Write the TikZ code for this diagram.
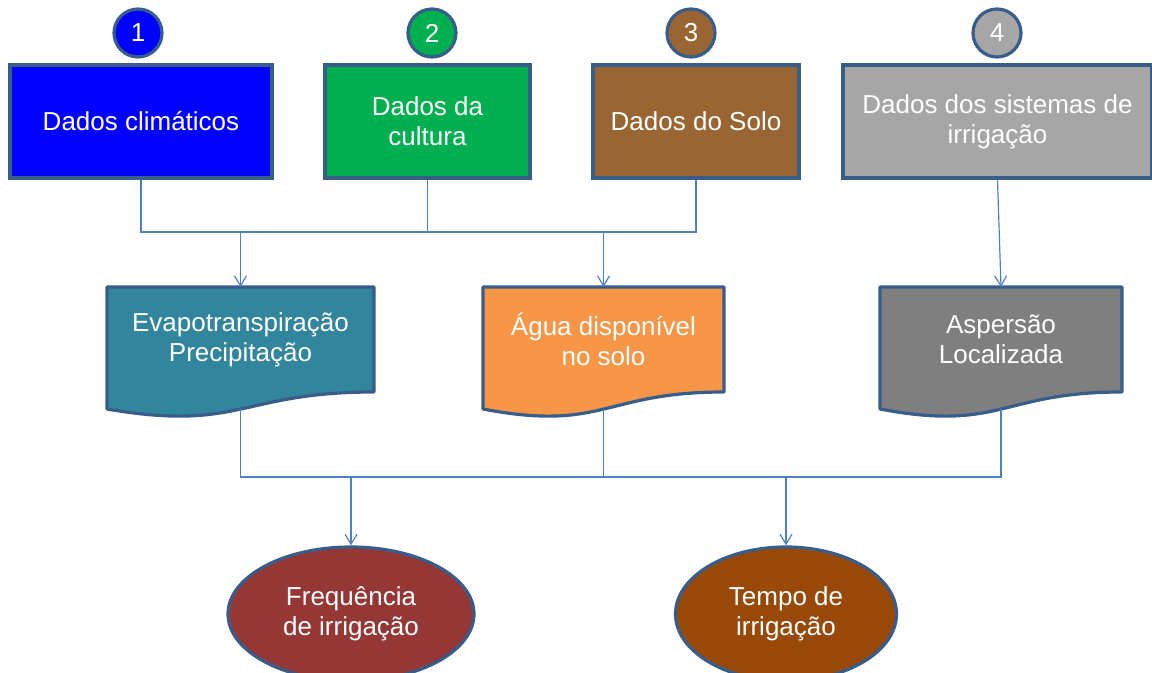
\documentclass[tikz,border=0pt]{standalone}
\usepackage{fontspec}
\setmainfont{Liberation Sans}
\usetikzlibrary{arrows.meta,calc,shapes.geometric}
\pgfdeclarelayer{background}
\pgfsetlayers{background,main}

\definecolor{edge}{HTML}{385D8A}
\definecolor{wire}{HTML}{4F81BD}
\definecolor{cClim}{HTML}{0000FF}
\definecolor{cCult}{HTML}{00B050}
\definecolor{cSolo}{HTML}{996633}
\definecolor{cIrr}{HTML}{A6A6A6}
\definecolor{cEvap}{HTML}{31859C}
\definecolor{cAgua}{HTML}{F79646}
\definecolor{cAsp}{HTML}{7F7F7F}
\definecolor{cFreq}{HTML}{953735}
\definecolor{cTempo}{HTML}{984807}

\begin{document}
\begin{tikzpicture}[x = 0.5pt, y = -0.5pt,
  txt/.style = {text = white, font = \fontsize{13}{15}\selectfont, align = center},
  numdot/.style = {txt, circle, draw = edge, line width = 1.6pt, minimum size = 24pt, inner sep = 0pt},
  databox/.style = {txt, rectangle, draw = edge, line width = 1.6pt, minimum height = 56.5pt, inner sep = 0pt},
  docbox/.style = {txt, rectangle, minimum height = 52.5pt, inner sep = 0pt, outer sep = 0pt},
  goal/.style = {txt, ellipse, draw = edge, line width = 1.6pt, minimum height = 67pt, inner sep = 0pt},
  bus/.style = {draw = wire, line width = 0.6pt},
  flow/.style = {bus, -{Straight Barb[length = 5pt, width = 6pt]}}]
  \def \yNum {33};
  \def \yData {121.5};
  \def \yBusA {232};
  \def \yDoc {339.5};
  \def \yBusB {477};
  \def \yGoal {614};

  \clip (0, 0) rectangle (1152, 673);

  % Draw numbered circles.
  \foreach \n/\x/\c in {1/138/cClim, 2/432/cCult, 3/691/cSolo, 4/997/cIrr} {
    \node[numdot, fill = \c] (num\n) at (\x, \yNum) {\n};
  };

  % Draw data boxes.
  \node[databox, fill = cClim, minimum width = 131pt] (clim) at (141, \yData) {Dados climáticos};
  \node[databox, fill = cCult, minimum width = 102.5pt] (cult) at (427.5, \yData) {Dados da\\cultura};
  \node[databox, fill = cSolo, minimum width = 103pt] (solo) at (696, \yData) {Dados do Solo};
  \node[databox, fill = cIrr, minimum width = 154.5pt] (irr) at (997.5, \yData) {Dados dos sistemas de\\irrigação};

  % Draw document nodes and their wavy shapes.
  \node[docbox, minimum width = 133.5pt] (evap) at (240.5, \yDoc) {Evapotranspiração\\Precipitação};
  \node[docbox, minimum width = 120.5pt] (agua) at (603.5, \yDoc) {Água disponível\\no solo};
  \node[docbox, minimum width = 121pt] (asp) at (1001, \yDoc) {Aspersão\\Localizada};
  \begin{pgfonlayer}{background}
    \foreach \n/\c in {evap/cEvap, agua/cAgua, asp/cAsp} {
      \draw[draw = edge, line width = 1.6pt, line join = round, fill = \c]
        (\n.north west) -- (\n.north east) -- (\n.south east)
        .. controls (\n.south) and ($(\n.south) + (0, 40)$) .. ($(\n.south west) + (0, 17)$) -- cycle;
    };
  \end{pgfonlayer}

  % Draw result ellipses.
  \node[goal, fill = cFreq, minimum width = 123pt] (freq) at (351, \yGoal) {Frequência\\de irrigação};
  \node[goal, fill = cTempo, minimum width = 110.5pt] (tempo) at (786, \yGoal) {Tempo de\\irrigação};

  % Draw upper connectors.
  \coordinate (busA) at (0, \yBusA);
  \draw[bus] (clim.south) |- (solo.south |- busA) -- (solo.south);
  \draw[bus] (cult.south) -- (cult.south |- busA);
  \draw[flow] (evap.north |- busA) -- (evap.north);
  \draw[flow] (agua.north |- busA) -- (agua.north);
  \draw[flow] (irr.south) -- (asp.north);

  % Draw lower connectors.
  \coordinate (busB) at (0, \yBusB);
  \foreach \n in {evap, agua, asp} {
    \coordinate (\n-end) at ($(\n.south) + (0, 17)$);
  };
  \draw[bus] (evap-end) |- (asp-end |- busB) -- (asp-end);
  \draw[bus] (agua-end) -- (agua-end |- busB);
  \draw[flow] (freq.north |- busB) -- (freq.north);
  \draw[flow] (tempo.north |- busB) -- (tempo.north);
\end{tikzpicture}
\end{document}
